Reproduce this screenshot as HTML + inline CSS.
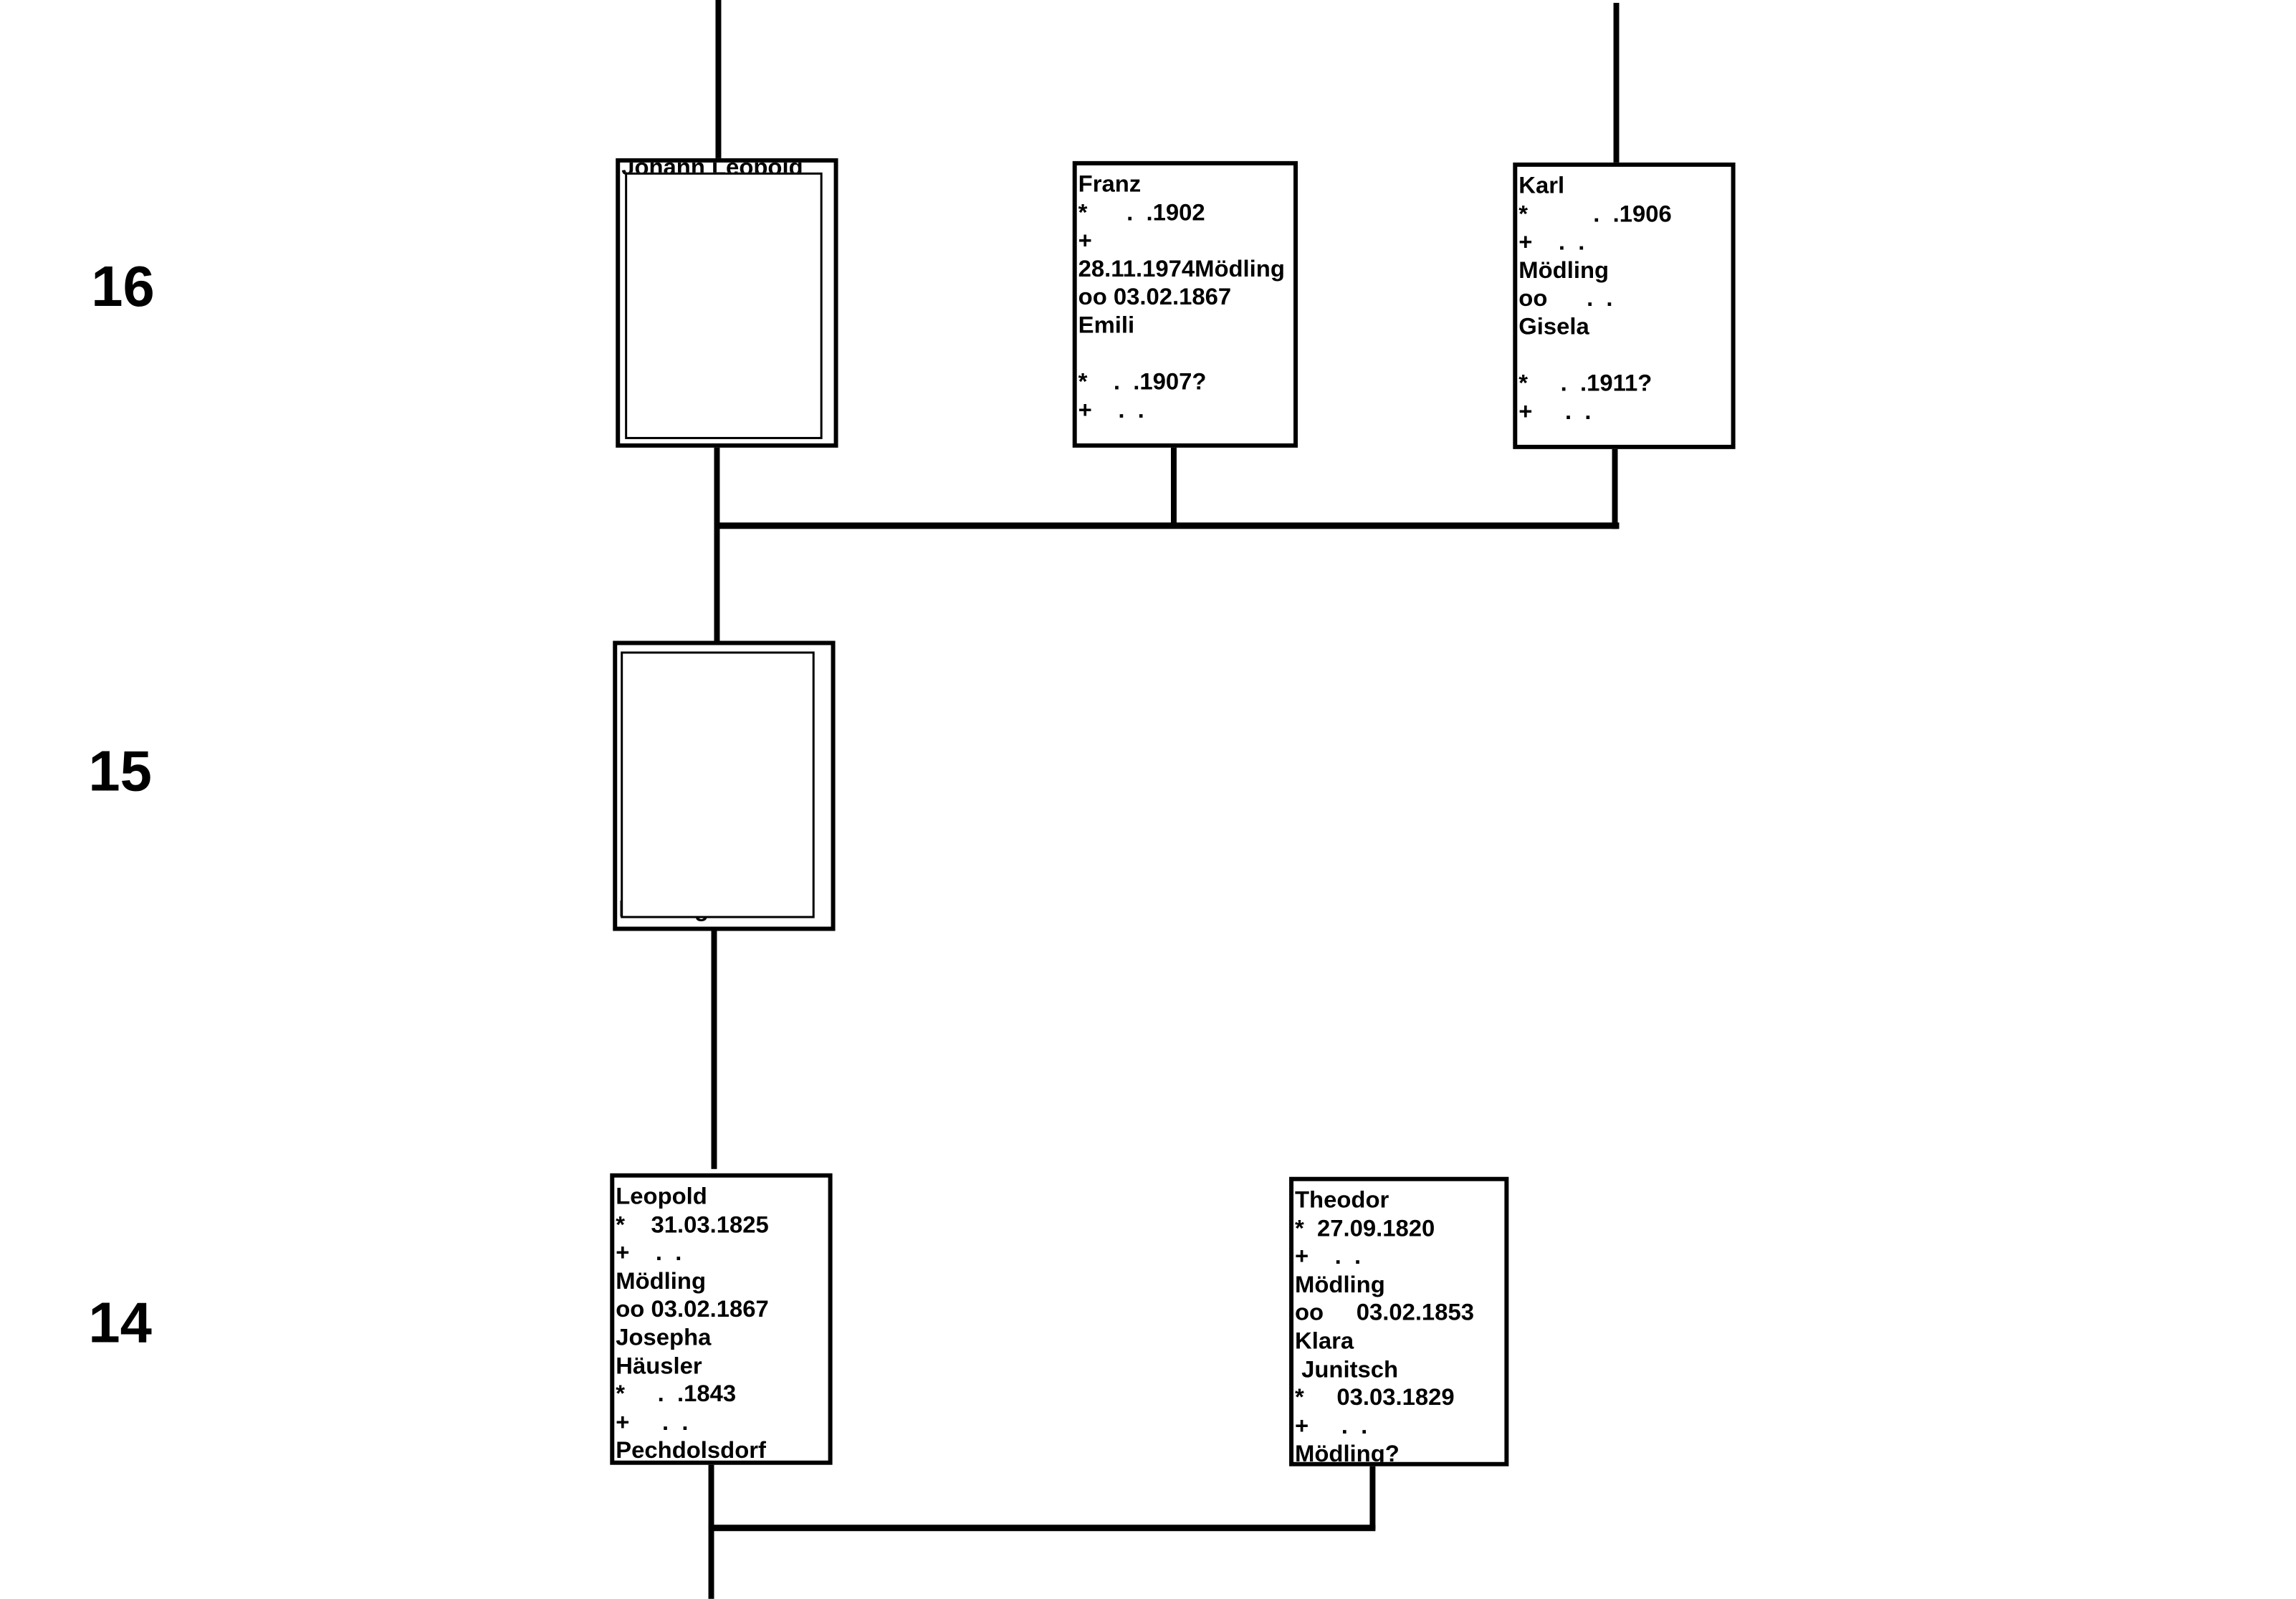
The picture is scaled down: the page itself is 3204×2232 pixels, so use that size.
<!DOCTYPE html>
<html><head><meta charset="utf-8"><style>
html,body{margin:0;padding:0;background:#fff;}
body{width:3204px;height:2229px;position:relative;overflow:hidden;font-family:"Liberation Sans",Arial,sans-serif;}
#w{position:absolute;left:0;top:0;width:3204px;height:2240px;transform:scale(0.9945,0.995);transform-origin:0 0;}
.l{position:absolute;background:#000;}
.box{position:absolute;border:6px solid #000;box-sizing:border-box;background:#fff;overflow:hidden;}
.t{position:absolute;left:2px;top:6px;font-weight:bold;font-size:33px;line-height:39.6px;white-space:pre;color:#000;}
.inner{position:absolute;border:3px solid #000;background:#fff;box-sizing:border-box;}
.n{position:absolute;font-weight:bold;font-size:80px;line-height:1;}
</style></head><body><div id="w">
<div class="n" style="left:128px;top:362px">16</div>
<div class="n" style="left:124px;top:1042px">15</div>
<div class="n" style="left:124px;top:1816px">14</div>

<div class="l" style="left:1004px;top:0;width:8px;height:224px"></div>
<div class="l" style="left:2264px;top:4px;width:8px;height:226px"></div>
<div class="l" style="left:1002px;top:626px;width:8px;height:274px"></div>
<div class="l" style="left:1002px;top:733px;width:1270px;height:9px"></div>
<div class="l" style="left:1643px;top:626px;width:8px;height:112px"></div>
<div class="l" style="left:2262px;top:628px;width:8px;height:114px"></div>
<div class="l" style="left:998px;top:1304px;width:8px;height:336px"></div>
<div class="l" style="left:994px;top:2053px;width:8px;height:190px"></div>
<div class="l" style="left:994px;top:2139px;width:936px;height:9px"></div>
<div class="l" style="left:1922px;top:2055px;width:8px;height:90px"></div>

<div class="box" style="left:864px;top:222px;width:312px;height:406px">
<div class="t" style="top:-14px">Johann Leopold</div>
<div class="inner" style="left:7px;top:14px;width:277px;height:374px"></div>
</div>
<div class="box" style="left:1505px;top:226px;width:316px;height:402px"><div class="t">Franz
*      .  .1902
+
28.11.1974Mödling
oo 03.02.1867
Emili

*    .  .1907?
+    .  .</div></div>
<div class="box" style="left:2123px;top:228px;width:312px;height:402px"><div class="t">Karl
*          .  .1906
+    .  .
Mödling
oo      .  .
Gisela

*     .  .1911?
+     .  .</div></div>
<div class="box" style="left:860px;top:899px;width:312px;height:407px">
<div class="t" style="top:350px">Mödling?</div>
<div class="inner" style="left:5px;top:9px;width:272px;height:374px"></div>
</div>
<div class="box" style="left:856px;top:1646px;width:312px;height:409px"><div class="t">Leopold
*    31.03.1825
+    .  .
Mödling
oo 03.02.1867
Josepha
Häusler
*     .  .1843
+     .  .
Pechdolsdorf</div></div>
<div class="box" style="left:1809px;top:1651px;width:308px;height:406px"><div class="t">Theodor
*  27.09.1820
+    .  .
Mödling
oo     03.02.1853
Klara
 Junitsch
*     03.03.1829
+     .  .
Mödling?</div></div>
</div></body></html>
